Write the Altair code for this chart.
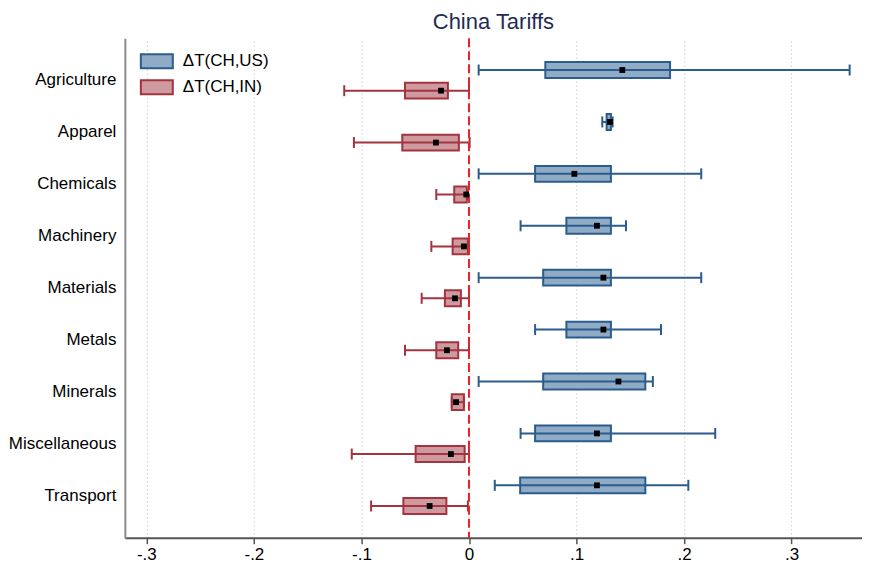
import altair as alt
import pandas as pd

categories = ["Agriculture", "Apparel", "Chemicals", "Machinery", "Materials",
              "Metals", "Minerals", "Miscellaneous", "Transport"]
series_names = ["ΔT(CH,US)", "ΔT(CH,IN)"]

# US series: whisker low, q1, q3, whisker high, mean
us_lo = [0.009, 0.124, 0.009, 0.048, 0.009, 0.0615, 0.009, 0.048, 0.024]
us_q1 = [0.071, 0.128, 0.0615, 0.0906, 0.069, 0.0906, 0.069, 0.0615, 0.0476]
us_q3 = [0.187, 0.132, 0.132, 0.132, 0.132, 0.132, 0.164, 0.132, 0.164]
us_hi = [0.354, 0.1336, 0.216, 0.146, 0.216, 0.1786, 0.171, 0.229, 0.204]
us_mean = [0.1426, 0.131, 0.098, 0.119, 0.125, 0.125, 0.139, 0.119, 0.119]

# IN series
in_lo = [-0.116, -0.107, -0.0304, -0.035, -0.044, -0.0595, -0.016, -0.109, -0.091]
in_q1 = [-0.0595, -0.062, -0.0137, -0.0152, -0.0224, -0.0304, -0.016, -0.0496, -0.061]
in_q3 = [-0.0196, -0.0094, -0.002, -0.001, -0.0075, -0.010, -0.0047, -0.004, -0.021]
in_hi = [0.0, 0.0006, -0.001, 0.0, 0.0, 0.0, -0.0047, 0.0, -0.001]
in_mean = [-0.026, -0.0307, -0.0025, -0.0047, -0.013, -0.0205, -0.012, -0.0168, -0.0366]

xtick_values = [-0.3, -0.2, -0.1, 0.0, 0.1, 0.2, 0.3]
xtick_labels = ["-.3", "-.2", "-.1", "0", ".1", ".2", ".3"]

fills = ["#8fabc6", "#cf9a9f"]
strokes = ["#2b5d8c", "#a3343f"]

rows = []
for s, cols in zip(series_names, [(us_lo, us_q1, us_q3, us_hi, us_mean),
                                  (in_lo, in_q1, in_q3, in_hi, in_mean)]):
    lo, q1, q3, hi, mn = cols
    for i, c in enumerate(categories):
        rows.append(dict(category=c, series=s,
                         lo=lo[i], q1=q1[i], q3=q3[i], hi=hi[i], mean=mn[i]))
df = pd.DataFrame(rows)

label_expr = ""
for v, l in zip(xtick_values, xtick_labels):
    label_expr += f"abs(datum.value - ({v})) < 1e-6 ? '{l}' : "
label_expr += "''"

xscale = alt.Scale(domain=[-0.32, 0.3655], nice=False, zero=False)
xaxis = alt.Axis(title=None, values=xtick_values, labelExpr=label_expr,
                 grid=True, gridDash=[1, 3], gridColor="#b8b8b8", gridWidth=1,
                 domainColor="#555555", domainWidth=2, tickColor="#555555",
                 tickSize=6, tickWidth=1.5, labelFontSize=17, labelPadding=3,
                 labelColor="black")


def X(field):
    return alt.X(f"{field}:Q", scale=xscale, axis=xaxis)


y_enc = alt.Y("category:N", sort=categories,
              scale=alt.Scale(paddingInner=0, paddingOuter=0.31),
              axis=alt.Axis(title=None, ticks=False, labelFontSize=17,
                            labelPadding=9, domainColor="#8c8c8c",
                            domainWidth=2, labelColor="black", grid=False))
yoff = alt.YOffset("series:N", sort=series_names,
                   scale=alt.Scale(paddingInner=0.23, paddingOuter=0.372))

legend = alt.Legend(title=None, orient="none", legendX=23, legendY=14,
                    symbolType="M-2,-0.875L2,-0.875L2,0.875L-2,0.875Z",
                    symbolSize=256, symbolStrokeWidth=2, labelFontSize=17,
                    labelOffset=17, rowPadding=4, padding=0, labelColor="black")

fill_enc = alt.Fill("series:N", sort=series_names,
                    scale=alt.Scale(domain=series_names, range=fills), legend=legend)
stroke_enc = alt.Stroke("series:N", sort=series_names,
                        scale=alt.Scale(domain=series_names, range=strokes),
                        legend=legend)

base = alt.Chart(df)

boxes = base.mark_bar(strokeWidth=2).encode(
    x=X("q1"), x2="q3:Q", y=y_enc, yOffset=yoff, fill=fill_enc, stroke=stroke_enc)

whiskers = base.mark_rule(strokeWidth=2).encode(
    x=X("lo"), x2="hi:Q", y=y_enc, yOffset=yoff, stroke=stroke_enc)

cap_shape = "M0,-1L0,1"
cap_lo = base.mark_point(shape=cap_shape, size=121, strokeWidth=2, filled=False,
                         opacity=1).encode(
    x=X("lo"), y=y_enc, yOffset=yoff, stroke=stroke_enc)
cap_hi = base.mark_point(shape=cap_shape, size=121, strokeWidth=2, filled=False,
                         opacity=1).encode(
    x=X("hi"), y=y_enc, yOffset=yoff, stroke=stroke_enc)

zero = alt.Chart(pd.DataFrame({"zero": [0.0]})).mark_rule(
    color="#e5232b", strokeDash=[9, 4], strokeWidth=2).encode(x=X("zero"))

means = base.mark_square(size=34, color="black", opacity=1, filled=True).encode(
    x=X("mean"), y=y_enc, yOffset=yoff)

chart = alt.layer(boxes, whiskers, cap_lo, cap_hi, zero, means).properties(
    width=738, height=500,
    padding={"left": 0, "top": 3, "right": 0, "bottom": 0},
    title=alt.TitleParams("China Tariffs", fontSize=22, color="#1f2d55",
                          fontWeight="normal", anchor="middle", offset=3),
).configure(font="Liberation Sans").configure_view(stroke=None)

chart.save("out.html", embed_options={"renderer": "svg", "actions": False})
